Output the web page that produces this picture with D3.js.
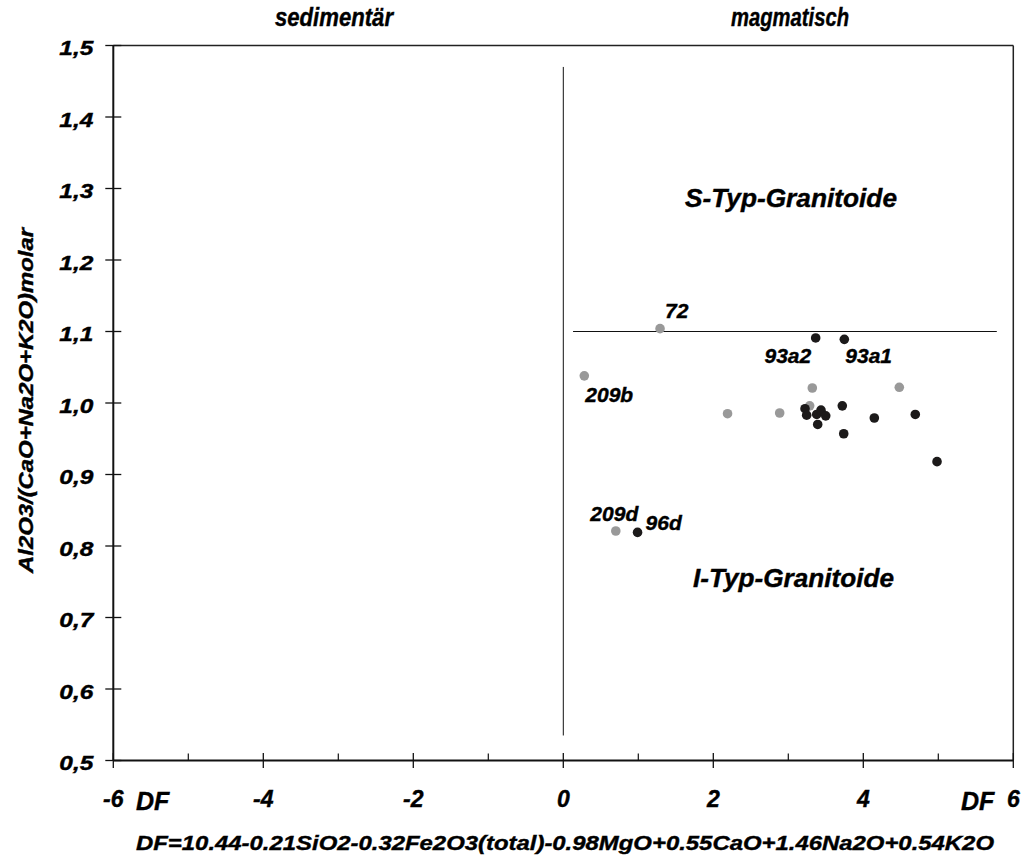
<!DOCTYPE html>
<html>
<head>
<meta charset="utf-8">
<script src="https://cdn.jsdelivr.net/npm/d3@7"></script>
<style>
  body { margin: 0; background: #fff; }
  svg { display: block; }
  text { font-family: "Liberation Sans", Arial, sans-serif; font-weight: bold; font-style: italic; fill: #000; stroke: #000; stroke-width: 0.4px; }
</style>
</head>
<body>
<svg id="chart" width="1023" height="863"></svg>
<script>
// ---- data ----
const grayX = [1.29, 0.28, 3.32, 4.48, 2.19, 2.885, 3.285, 0.70];
const grayY = [1.104, 1.038, 1.021, 1.022, 0.985, 0.986, 0.996, 0.821];
const grayLabels = ["72", "209b", "", "", "", "", "", "209d"];

const blackX = [3.365, 3.747, 3.223, 3.245, 3.379, 3.436, 3.499, 3.392, 3.72, 4.147, 4.693, 3.739, 4.983, 0.99];
const blackY = [1.091, 1.089, 0.992, 0.983, 0.984, 0.990, 0.982, 0.970, 0.996, 0.979, 0.984, 0.957, 0.918, 0.819];
const blackLabels = ["93a2", "93a1", "", "", "", "", "", "", "", "", "", "", "", "96d"];

const xTickValues = [-6, -4, -2, 0, 2, 4, 6];
const xMinorTicks = [-5, -3, -1, 1, 3, 5];
const yTickValues = [0.5, 0.6, 0.7, 0.8, 0.9, 1.0, 1.1, 1.2, 1.3, 1.4, 1.5];

const topLabels = ["sedimentär", "magmatisch"];
const regionLabels = ["S-Typ-Granitoide", "I-Typ-Granitoide"];
const yTitle = "Al2O3/(CaO+Na2O+K2O)molar";
const xFormula = "DF=10.44-0.21SiO2-0.32Fe2O3(total)-0.98MgO+0.55CaO+1.46Na2O+0.54K2O";

// ---- layout / style ----
const W = 1023, H = 863;
const m = { left: 113.3, right: 9.7, top: 45.5, bottom: 102.5 };
const svg = d3.select("#chart");
const x = d3.scaleLinear().domain([-6, 6]).range([m.left, W - m.right]);
const y = d3.scaleLinear().domain([0.5, 1.5]).range([H - m.bottom, m.top]);
const labelOffsets = {
  "72": { dx: 5, dy: -11, anchor: "start" },
  "209b": { dx: 1, dy: 26, anchor: "start" },
  "209d": { dx: -1.5, dy: -10, anchor: "middle" },
  "93a2": { dx: -4.5, dy: 25, anchor: "end" },
  "93a1": { dx: 1, dy: 24, anchor: "start" },
  "96d": { dx: 8, dy: -2.7, anchor: "start" }
};

// frame (top & right)
svg.append("line").attr("x1", x(-6)).attr("x2", x(6)).attr("y1", y(1.5)).attr("y2", y(1.5))
  .attr("stroke", "#222").attr("stroke-width", 1.5);
svg.append("line").attr("x1", x(6)).attr("x2", x(6)).attr("y1", y(1.5)).attr("y2", y(0.5))
  .attr("stroke", "#222").attr("stroke-width", 1.5);

// x axis
const xAxis = svg.append("g").attr("transform", `translate(0,${y(0.5)})`);
xAxis.append("line").attr("x1", x(-6)).attr("x2", x(6)).attr("stroke", "#111").attr("stroke-width", 2);
xAxis.selectAll("line.maj").data(xTickValues).join("line").attr("class", "maj")
  .attr("x1", d => x(d)).attr("x2", d => x(d)).attr("y1", -7.5).attr("y2", 7.5)
  .attr("stroke", "#111").attr("stroke-width", 1.3);
xAxis.selectAll("line.min").data(xMinorTicks).join("line").attr("class", "min")
  .attr("x1", d => x(d)).attr("x2", d => x(d)).attr("y1", -7).attr("y2", 0)
  .attr("stroke", "#111").attr("stroke-width", 1.2);
xAxis.selectAll("text").data(xTickValues).join("text")
  .attr("x", d => x(d)).attr("y", 46.5).attr("text-anchor", "middle")
  .attr("font-size", 23).text(d => d);

// y axis
const yAxis = svg.append("g").attr("transform", `translate(${x(-6)},0)`);
yAxis.append("line").attr("y1", y(0.5)).attr("y2", y(1.5)).attr("stroke", "#111").attr("stroke-width", 2);
yAxis.selectAll("line.t").data(yTickValues).join("line").attr("class", "t")
  .attr("y1", d => y(d)).attr("y2", d => y(d)).attr("x1", -8).attr("x2", 8)
  .attr("stroke", "#111").attr("stroke-width", 1.3);
yAxis.selectAll("text").data(yTickValues).join("text")
  .attr("x", -20).attr("y", d => y(d) + 9.5).attr("text-anchor", "end")
  .attr("font-size", 20).attr("textLength", 34).attr("lengthAdjust", "spacingAndGlyphs")
  .text(d => d3.format(".1f")(d).replace(".", ","));

// DF labels on axis
svg.append("text").attr("x", 136).attr("y", 810).attr("font-size", 25).text("DF");
svg.append("text").attr("x", 961).attr("y", 810).attr("font-size", 25).text("DF");

// formula
svg.append("text").attr("x", 136).attr("y", 850).attr("font-size", 21)
  .attr("textLength", 858).attr("lengthAdjust", "spacingAndGlyphs").text(xFormula);

// y title
svg.append("text").attr("transform", `translate(33,${400.5}) rotate(-90)`)
  .attr("text-anchor", "middle").attr("font-size", 20)
  .attr("textLength", 345).attr("lengthAdjust", "spacingAndGlyphs").text(yTitle);

// top labels
svg.selectAll("text.top").data(topLabels).join("text").attr("class", "top")
  .attr("x", (d, i) => [334, 790][i]).attr("y", 26).attr("text-anchor", "middle")
  .attr("font-size", 25).attr("textLength", 118).attr("lengthAdjust", "spacingAndGlyphs").text(d => d);

// region labels
svg.selectAll("text.reg").data(regionLabels).join("text").attr("class", "reg")
  .attr("x", (d, i) => [685, 693][i]).attr("y", (d, i) => [207, 587][i])
  .attr("font-size", 26).attr("textLength", (d, i) => [212, 201][i])
  .attr("lengthAdjust", "spacingAndGlyphs").text(d => d);

// boundary lines
svg.append("line").attr("x1", x(0)).attr("x2", x(0)).attr("y1", y(1.47)).attr("y2", y(0.535))
  .attr("stroke", "#111").attr("stroke-width", 1);
svg.append("line").attr("x1", x(0.13)).attr("x2", x(5.78)).attr("y1", y(1.1)).attr("y2", y(1.1))
  .attr("stroke", "#111").attr("stroke-width", 1);

// points
const grayPts = grayX.map((v, i) => ({ x: v, y: grayY[i], label: grayLabels[i] }));
const blackPts = blackX.map((v, i) => ({ x: v, y: blackY[i], label: blackLabels[i] }));

svg.append("g").selectAll("circle").data(grayPts).join("circle")
  .attr("cx", d => x(d.x)).attr("cy", d => y(d.y)).attr("r", 4.8).attr("fill", "#999999");
svg.append("g").selectAll("circle").data(blackPts).join("circle")
  .attr("cx", d => x(d.x)).attr("cy", d => y(d.y)).attr("r", 4.8).attr("fill", "#1c1a1a");

const labelled = grayPts.concat(blackPts).filter(d => d.label);
svg.append("g").selectAll("text").data(labelled).join("text")
  .attr("x", d => x(d.x) + labelOffsets[d.label].dx)
  .attr("y", d => y(d.y) + labelOffsets[d.label].dy)
  .attr("text-anchor", d => labelOffsets[d.label].anchor)
  .attr("font-size", 21).text(d => d.label);
</script>
</body>
</html>
